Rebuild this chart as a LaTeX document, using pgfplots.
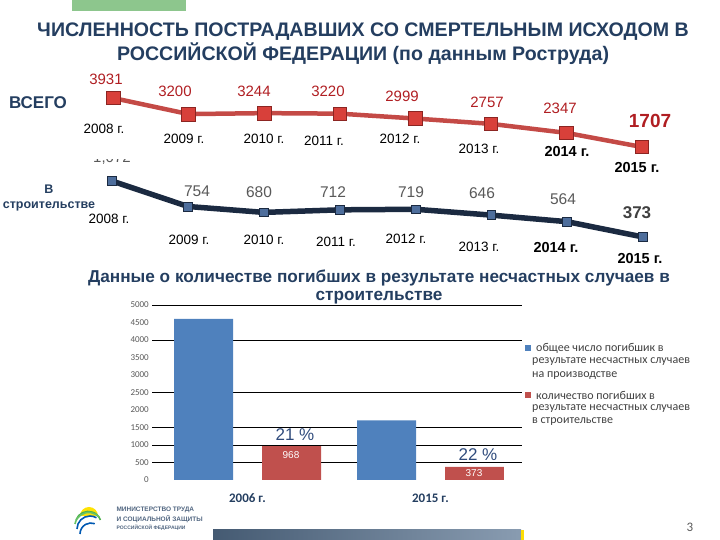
\documentclass[border=0pt]{standalone}
\usepackage{pgfplots}
\pgfplotsset{compat=1.18}
\usepackage{fontspec}
\setmainfont{Liberation Sans}
\newfontfamily\calib{Carlito}
\definecolor{titleblue}{HTML}{243E60}
\definecolor{valred}{HTML}{B01E22}
\definecolor{linered}{HTML}{C44A46}
\definecolor{markred}{HTML}{D8403A}
\definecolor{markredd}{HTML}{8C2522}
\definecolor{navy}{HTML}{1B2A41}
\definecolor{marknavy}{HTML}{4E6E9C}
\definecolor{valgray}{HTML}{595959}
\definecolor{barblue}{HTML}{4F81BD}
\definecolor{barred}{HTML}{C0504D}
\definecolor{pctblue}{HTML}{2F4B7C}
\definecolor{legtext}{HTML}{404040}
\definecolor{slidegreen}{HTML}{8DC68D}
\definecolor{barbot}{HTML}{56718F}
\begin{document}
\begin{tikzpicture}
\begin{scope}[x=1pt,y=1pt]
\path[use as bounding box] (0,0) rectangle (720,540);
% decorations
\fill[slidegreen] (72,529) rectangle (186,540);
\shade[left color=barbot!80!black, right color=barbot!70!white] (213,0) rectangle (521,10);
\fill[yellow!80!orange] (521,0) rectangle (524,10);
\node[font=\calib\fontsize{13}{13}\selectfont, text=valgray] at (690,13) {3};
% logo
\fill[yellow!85!orange] (80,24) arc (180:0:9) -- cycle;
\draw[green!55!black!70, line width=1.6pt] (76,20) arc (160:20:13);
\draw[green!60!black!60, line width=1.6pt] (75,16) arc (170:40:14);
\draw[blue!50!cyan!70!black, line width=1.6pt] (77,11) arc (180:60:13);
\draw[blue!50!cyan!70!black, line width=1.6pt] (80,6) arc (180:70:11);
\node[anchor=west, font=\bfseries\fontsize{6.5}{6.5}\selectfont, text=titleblue!80] at (113,30) {МИНИСТЕРСТВО ТРУДА};
\node[anchor=west, font=\bfseries\fontsize{6.5}{6.5}\selectfont, text=titleblue!80] at (113,21) {И СОЦИАЛЬНОЙ ЗАЩИТЫ};
\node[anchor=west, font=\bfseries\fontsize{5}{5}\selectfont, text=titleblue!80] at (113,12) {РОССИЙСКОЙ ФЕДЕРАЦИИ};
% titles
\node[font=\bfseries\fontsize{19.6}{24}\selectfont, text=titleblue, align=center] at (363,496)
  {ЧИСЛЕННОСТЬ ПОСТРАДАВШИХ СО СМЕРТЕЛЬНЫМ ИСХОДОМ В\\РОССИЙСКОЙ ФЕДЕРАЦИИ (по данным Роструда)};
\node[font=\bfseries\fontsize{17.2}{18}\selectfont, text=titleblue, inner sep=1pt, align=center] at (379,253)
  {Данные о количестве погибших в результате несчастных случаев в\\строительстве};
% side labels
\node[font=\bfseries\fontsize{17}{17}\selectfont, text=titleblue] at (38,437) {ВСЕГО};
\node[font=\bfseries\fontsize{12.5}{15}\selectfont, text=titleblue, inner sep=1pt, align=center] at (49,342) {В\\строительстве};
% red values
\begin{scope}[every node/.style={font=\fontsize{15}{15}\selectfont, text=valred}]
\node at (106,461) {3931};
\node at (175,449) {3200};
\node at (254,449) {3244};
\node at (328,449) {3220};
\node at (402,444) {2999};
\node at (487,438) {2757};
\node at (560,432) {2347};
\end{scope}
\node[font=\bfseries\fontsize{19}{19}\selectfont, text=valred] at (650,419) {1707};
% red years
\begin{scope}[every node/.style={font=\fontsize{13.5}{13.5}\selectfont, text=black}]
\node at (104,411) {2008 г.};
\node at (184,401) {2009 г.};
\node at (264,401) {2010 г.};
\node at (324,399) {2011 г.};
\node at (400,401) {2012 г.};
\node at (479,391) {2013 г.};
\end{scope}
\node[font=\bfseries\fontsize{14.5}{14.5}\selectfont] at (567,388) {2014 г.};
\node[font=\bfseries\fontsize{14.5}{14.5}\selectfont] at (637,372) {2015 г.};
% navy values
\begin{scope}
\clip (90,370) rectangle (140,380);
\node[font=\fontsize{15}{15}\selectfont, text=valgray] at (112,382) {1,072};
\end{scope}
\begin{scope}[every node/.style={font=\fontsize{15.5}{15.5}\selectfont, text=valgray}]
\node at (197,349) {754};
\node at (259,348) {680};
\node at (333,348) {712};
\node at (411,348) {719};
\node at (482,347) {646};
\node at (563,341) {564};
\end{scope}
\node[font=\bfseries\fontsize{17}{17}\selectfont, text=legtext] at (637,327) {373};
% navy years
\begin{scope}[every node/.style={font=\fontsize{13.5}{13.5}\selectfont, text=black}]
\node at (109,321) {2008 г.};
\node at (189,300) {2009 г.};
\node at (264,300) {2010 г.};
\node at (336,298) {2011 г.};
\node at (406,301) {2012 г.};
\node at (479,293) {2013 г.};
\end{scope}
\node[font=\bfseries\fontsize{14.5}{14.5}\selectfont] at (556,292) {2014 г.};
\node[font=\bfseries\fontsize{14.5}{14.5}\selectfont, inner sep=1pt] at (640,281) {2015 г.};
% legend
\fill[barblue] (525,189) rectangle (531,195);
\fill[barred] (525,142) rectangle (531,148);
\begin{scope}[every node/.style={anchor=west, inner sep=0pt, font=\calib\fontsize{12}{12}\selectfont, text=legtext}]
\node at (536,192) {общее число погибшик в};
\node at (532,178) {результате несчастных случаев};
\node at (532,164) {на производстве};
\node at (536,145) {количество погибших в};
\node at (532,131) {результате несчастных случаев};
\node at (532,118) {в строительстве};
\end{scope}
\end{scope}

% total line
\begin{axis}[at={(113pt,393pt)}, anchor=south west, scale only axis,
  width=529pt, height=49pt, xmin=2008, xmax=2015, ymin=1707, ymax=3931,
  hide axis, clip=false]
\addplot[color=linered, line width=4.5pt,
  mark=square*, mark size=6.8pt, mark options={fill=markred, draw=markredd, line width=0.6pt}]
  coordinates {(2008,3931) (2009,3200) (2010,3244) (2011,3220) (2012,2999) (2013,2757) (2014,2347) (2015,1707)};
\end{axis}

% construction line
\begin{axis}[at={(112pt,303pt)}, anchor=south west, scale only axis,
  width=531pt, height=56pt, xmin=2008, xmax=2015, ymin=373, ymax=1072,
  hide axis, clip=false]
\addplot[color=navy, line width=5.5pt,
  mark=square*, mark size=4.4pt, mark options={fill=marknavy, draw=navy, line width=0.6pt}]
  coordinates {(2008,1072) (2009,754) (2010,680) (2011,712) (2012,719) (2013,646) (2014,564) (2015,373)};
\end{axis}

% bar chart
\begin{axis}[at={(152pt,60pt)}, anchor=south west, scale only axis,
  width=370pt, height=175pt, xmin=0.478, xmax=2.5, ymin=0, ymax=5000,
  axis line style={draw=none}, major tick length=0pt,
  ytick={0,500,...,5000}, scaled y ticks=false,
  /pgf/number format/1000 sep={}, /pgf/number format/assume math mode=true,
  yticklabel style={font=\calib\fontsize{9}{9}\selectfont, text=valgray, inner sep=1pt, xshift=-2pt},
  extra y ticks={500,1000,1500,2500,4000,5000}, extra y tick labels={},
  extra y tick style={grid=major, major grid style={black, line width=0.6pt}},
  xtick={1,2}, xticklabels={2006 г., 2015 г.},
  xticklabel style={font=\calib\bfseries\fontsize{13}{13}\selectfont, text=titleblue, yshift=-10pt},
  clip=false]
\addplot[ybar, bar width=0.3224, bar shift=-0.2404, fill=barblue, draw=none]
  coordinates {(1,4600) (2,1707)};
\addplot[ybar, bar width=0.3224, bar shift=0.2404, fill=barred, draw=none]
  coordinates {(1,968) (2,373)};
\end{axis}

\begin{scope}[x=1pt,y=1pt]
\node[font=\fontsize{17}{17}\selectfont, text=pctblue] at (295,105) {21 \%};
\node[font=\fontsize{17}{17}\selectfont, text=pctblue] at (478,85) {22 \%};
\node[font=\fontsize{10}{10}\selectfont, text=white] at (291,85) {968};
\node[font=\fontsize{10}{10}\selectfont, text=white] at (474,67) {373};
\end{scope}
\end{tikzpicture}
\end{document}
